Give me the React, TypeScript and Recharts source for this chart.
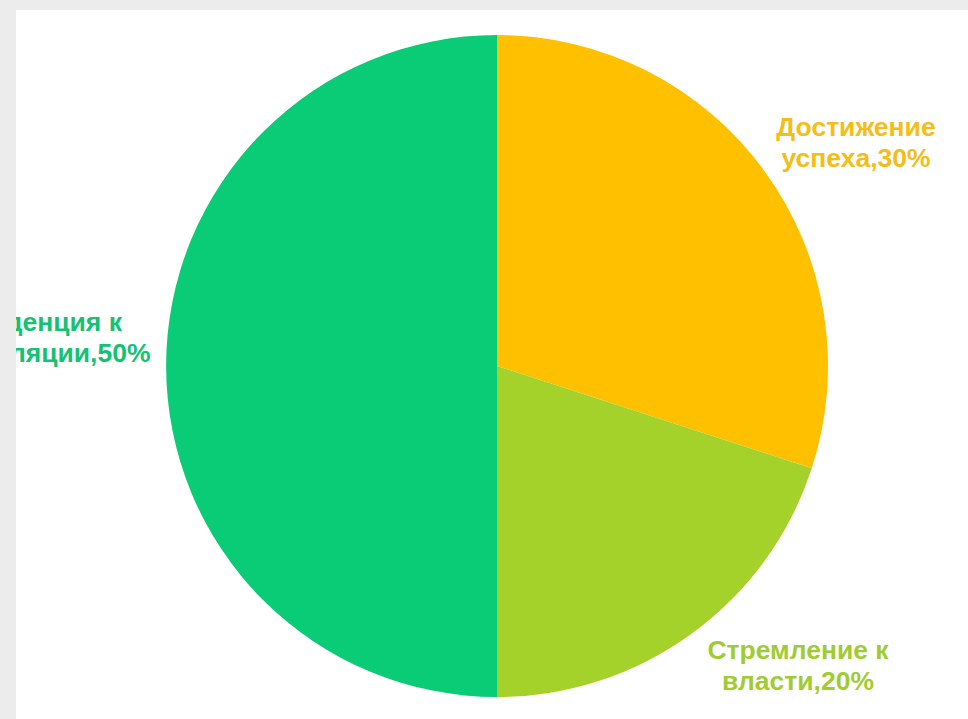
import { PieChart, Pie, Cell } from "recharts";

const categories = ["Достижение успеха", "Стремление к власти", "Тенденция к аффиляции"];
const shares = [30, 20, 50];
const labelLines = [
  ["Достижение", "успеха,30%"],
  ["Стремление к", "власти,20%"],
  ["Тенденция к", "аффиляции,50%"],
];

const COLORS = ["#ffc000", "#a5d12b", "#0acb76"];
const TEXT_COLORS = ["#f5bd16", "#9fcc32", "#16c172"];
// first-baseline offsets of each label from the pie centre, px
const LABEL_POS = [
  [359, -230],
  [301, 293],
  [-456, -35],
];

const data = categories.map((name, i) => ({ name, value: shares[i] }));

function renderLabel(props: any) {
  const { cx, cy, index } = props;
  const [dx, dy] = LABEL_POS[index];
  const x = cx + dx;
  const y = cy + dy;
  const lines = labelLines[index];
  return (
    <text
      x={x}
      y={y}
      textAnchor="middle"
      fill={TEXT_COLORS[index]}
      fontSize={26.5}
      fontWeight="bold"
      fontFamily="'Liberation Sans', Arial, sans-serif"
    >
      <tspan x={x} y={y}>{lines[0]}</tspan>
      <tspan x={x} y={y + 30.5}>{lines[1]}</tspan>
    </text>
  );
}

export default function App() {
  return (
    <div
      style={{
        position: "absolute",
        left: 0,
        top: 0,
        width: 968,
        height: 719,
        background: "#ececec",
        overflow: "hidden",
      }}
    >
      <div
        style={{
          position: "absolute",
          left: 16,
          top: 10,
          width: 952,
          height: 709,
          background: "#fff",
          overflow: "hidden",
        }}
      >
        <PieChart width={952} height={709}>
          <Pie
            data={data}
            dataKey="value"
            nameKey="name"
            cx={476}
            cy={351}
            outerRadius={331}
            startAngle={90}
            endAngle={-270}
            stroke="none"
            label={renderLabel}
            labelLine={false}
            isAnimationActive={false}
          >
            {data.map((d, i) => (
              <Cell key={d.name} fill={COLORS[i]} />
            ))}
          </Pie>
        </PieChart>
      </div>
    </div>
  );
}
